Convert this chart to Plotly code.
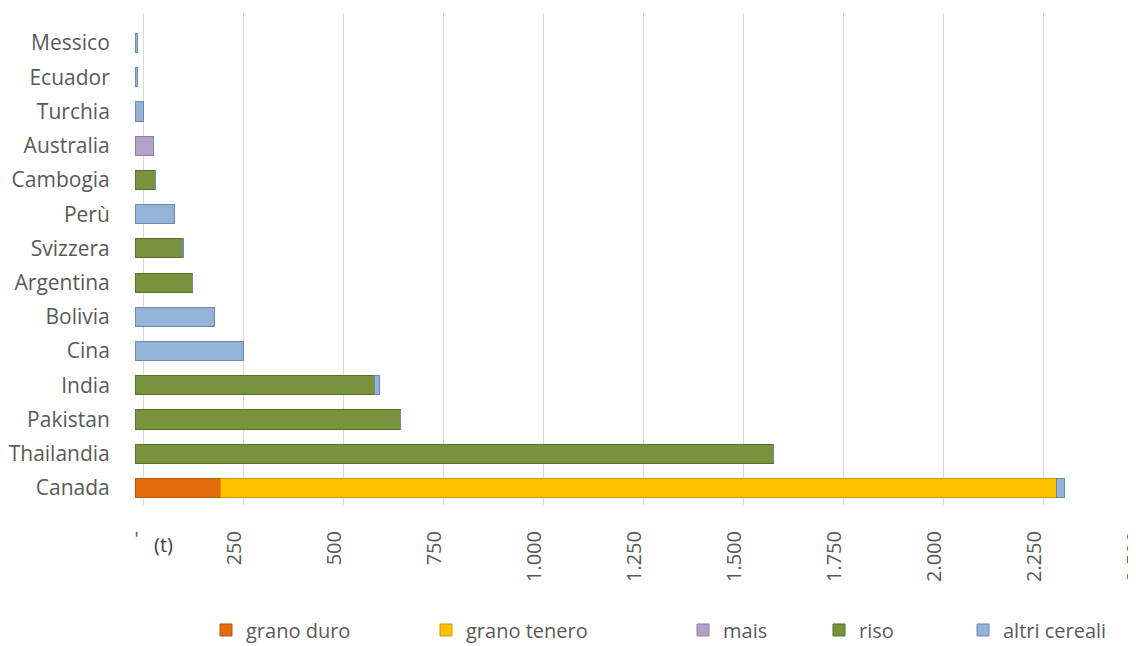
import plotly.graph_objects as go

countries = ["Canada", "Thailandia", "Pakistan", "India", "Cina", "Bolivia", "Argentina",
             "Svizzera", "Perù", "Cambogia", "Australia", "Turchia", "Ecuador", "Messico"]
grano_duro = [215, 0, 0, 0, 0, 0, 0, 0, 0, 0, 0, 0, 0, 0]
grano_tenero = [2090, 0, 0, 0, 0, 0, 0, 0, 0, 0, 0, 0, 0, 0]
mais = [0, 0, 0, 0, 0, 0, 0, 0, 0, 0, 45, 0, 0, 0]
riso = [0, 1597, 665, 600, 0, 0, 145, 118, 0, 50, 0, 0, 0, 0]
altri_cereali = [20, 0, 0, 12, 272, 200, 0, 3, 100, 0, 0, 22, 5, 5]

tick_vals = [0, 250, 500, 750, 1000, 1250, 1500, 1750, 2000, 2250, 2500]
tick_text = ["-", "250", "500", "750", "1.000", "1.250", "1.500", "1.750", "2.000", "2.250", "2.500"]

series = [
    ("grano duro", grano_duro, "#E46C0A", "#B85608"),
    ("grano tenero", grano_tenero, "#FFC000", "#CC9A00"),
    ("mais", mais, "#B3A2C7", "#8F7FA3"),
    ("riso", riso, "#77933C", "#5A7029"),
    ("altri cereali", altri_cereali, "#95B3D7", "#6A8AB0"),
]
legend_ids = ["legend", "legend2", "legend3", "legend4", "legend5"]
legend_x = [0.071, 0.291, 0.548, 0.684, 0.828]

fig = go.Figure()
# empty helper trace on the base axis, which only carries the back-wall grid
fig.add_trace(go.Scatter(x=[], y=[], xaxis="x", yaxis="y", showlegend=False,
                         hoverinfo="skip"))
for (name, vals, col, edge), lid in zip(series, legend_ids):
    fig.add_trace(go.Bar(
        y=countries, x=vals, name=name, orientation="h", legend=lid,
        showlegend=True, xaxis="x2", yaxis="y",
        marker=dict(color=col, line=dict(color=edge, width=1)),
    ))

font_family = "Open Sans"
legend_common = dict(orientation="h", xanchor="left", y=-0.254, yanchor="middle",
                     font=dict(size=20, color="#595959"), itemwidth=30,
                     bgcolor="rgba(0,0,0,0)", visible=True)
legends = {lid: dict(x=lx, **legend_common) for lid, lx in zip(legend_ids, legend_x)}

fig.update_layout(
    width=1136, height=646, showlegend=True,
    barmode="stack", bargap=0.44,
    plot_bgcolor="white", paper_bgcolor="white",
    margin=dict(l=127, r=9, t=5, b=149, autoexpand=False),
    font=dict(family=font_family, color="#595959", size=21),
    # back-wall gridlines of the 3D chart, slightly offset from the bar origin
    xaxis=dict(
        range=[-20, 2480], dtick=250, tick0=0,
        showgrid=True, gridcolor="#D9D9D9", gridwidth=1,
        zeroline=True, zerolinecolor="#D9D9D9", zerolinewidth=1,
        showticklabels=False, ticks="", showline=False, fixedrange=True,
        automargin=False,
    ),
    xaxis2=dict(
        overlaying="x", anchor="y", side="bottom",
        range=[0, 2500.5], tickvals=tick_vals, ticktext=tick_text,
        tickangle=-90, showgrid=False, zeroline=False,
        ticks="outside", ticklen=17, tickcolor="rgba(0,0,0,0)",
        tickfont=dict(size=20, color="#595959"), ticklabeloverflow="allow",
        showline=False, fixedrange=True, automargin=False,
    ),
    yaxis=dict(
        categoryorder="array", categoryarray=countries, range=[-0.5, 13.88],
        showgrid=False, zeroline=False, showline=False,
        ticks="outside", ticklen=20, tickcolor="rgba(0,0,0,0)",
        tickfont=dict(size=21, color="#595959"), automargin=False,
        fixedrange=True,
    ),
    annotations=[dict(
        text="(t)", x=72, xref="x2", y=-0.0813, yref="paper",
        xanchor="center", yanchor="middle", showarrow=False,
        font=dict(size=20, color="#404040"),
    )],
    **legends,
)

fig.write_html("out.html")
